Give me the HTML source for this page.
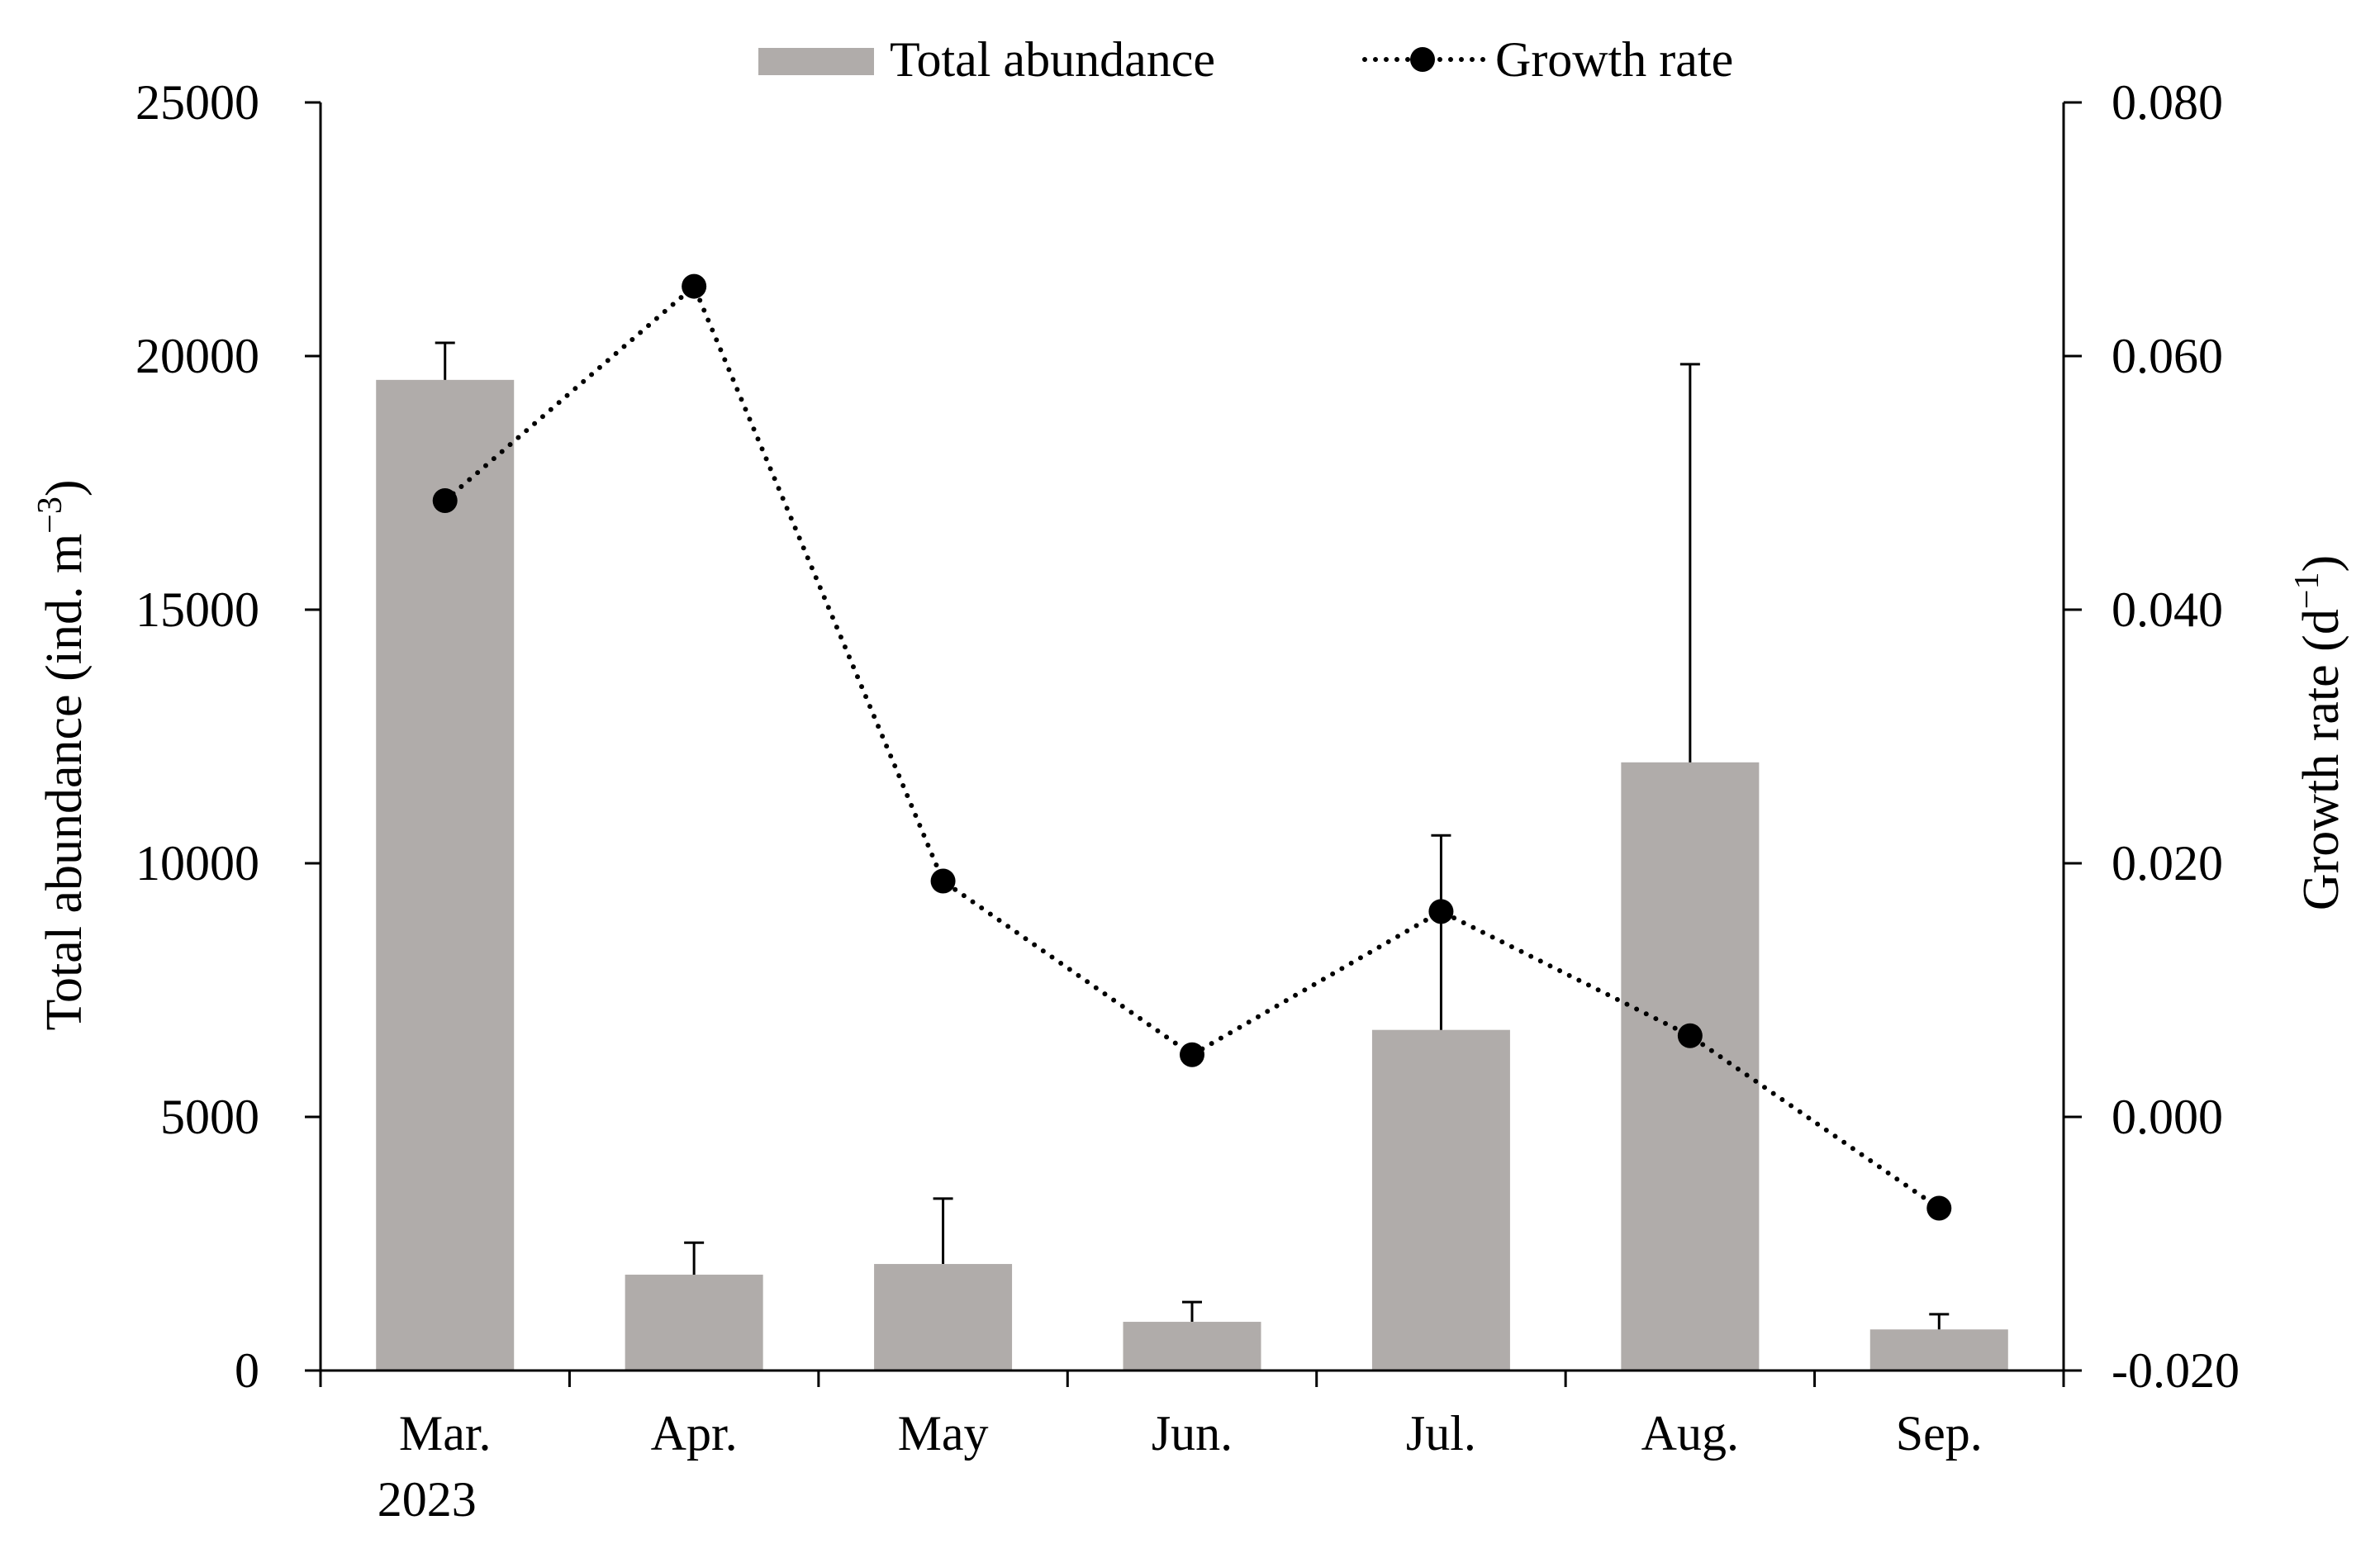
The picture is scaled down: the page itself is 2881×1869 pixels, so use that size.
<!DOCTYPE html>
<html><head><meta charset="utf-8"><style>
html,body{margin:0;padding:0;background:#fff;}
svg{display:block;font-family:"Liberation Serif",serif;}
</style></head><body>
<svg id="chart" width="2881" height="1869" viewBox="0 0 2881 1869" xmlns="http://www.w3.org/2000/svg">
<g id="layer"></g>
</svg>
<script>
const categories = ["Mar.","Apr.","May","Jun.","Jul.","Aug.","Sep."];
const abundance = [19530,1890,2100,960,6715,11990,810];
const abundanceErr = [730,630,1290,390,3835,7850,300];
const growthRate = [0.0486,0.0655,0.0186,0.0049,0.0162,0.0064,-0.0072];
const leftTicks = [0,5000,10000,15000,20000,25000];
const rightTicks = ["-0.020","0.000","0.020","0.040","0.060","0.080"];

const NS="http://www.w3.org/2000/svg";
const g=document.getElementById('layer');
const X0=388,X1=2498,Y0=1659,Y1=124;
const catW=(X1-X0)/categories.length;
const xc=i=>X0+catW*(i+0.5);
const yL=v=>Y0-(v/25000)*(Y0-Y1);
const yR=v=>Y0-((v+0.02)/0.1)*(Y0-Y1);
function mk(tag,attrs,text){const e=document.createElementNS(NS,tag);for(const k in attrs)e.setAttribute(k,attrs[k]);if(text!==undefined)e.textContent=text;g.appendChild(e);return e;}

// bars
abundance.forEach((v,i)=>{
  const bw=167;
  const r=mk('rect',{x:xc(i)-bw/2,y:yL(v),width:bw,height:Y0-yL(v),fill:'#b0acaa'});
  
  
  const top=yL(v+abundanceErr[i]);
  const e=mk('path',{d:`M${xc(i)},${yL(v)} V${top} M${xc(i)-12},${top} H${xc(i)+12}`,stroke:'#000','stroke-width':3,fill:'none'});
  
  
});

// axes
let a=mk('path',{d:`M${X0},${Y1} V${Y0} H${X1} V${Y1}`,stroke:'#000','stroke-width':3,fill:'none'});


leftTicks.forEach(v=>{
  const y=yL(v);
  mk('line',{x1:X0-19,x2:X0,y1:y,y2:y,stroke:'#000','stroke-width':3});
  const t=mk('text',{x:314,y:y+20,'text-anchor':'end','font-size':60},String(v));
  
  
});
rightTicks.forEach(s=>{
  const y=yR(parseFloat(s));
  mk('line',{x1:X1,x2:X1+22,y1:y,y2:y,stroke:'#000','stroke-width':3});
  const t=mk('text',{x:2556,y:y+20,'font-size':60},s);
  
  
});
for(let i=0;i<=categories.length;i++){
  const x=X0+catW*i;
  mk('line',{x1:x,x2:x,y1:Y0,y2:Y0+20,stroke:'#000','stroke-width':3});
}
categories.forEach((c,i)=>{
  const t=mk('text',{x:xc(i),y:1755,'text-anchor':'middle','font-size':60},c);
  
  
});
let yr=mk('text',{x:xc(0)-22,y:1835,'text-anchor':'middle','font-size':60},'2023');



// growth line
const pts=growthRate.map((v,i)=>`${xc(i)},${yR(v)}`).join(' ');
let pl=mk('polyline',{points:pts,fill:'none',stroke:'#000','stroke-width':6,'stroke-dasharray':'0 13','stroke-linecap':'round'});


growthRate.forEach((v,i)=>{
  const c=mk('circle',{cx:xc(i),cy:yR(v),r:15,fill:'#000'});
  
  
});

// axis titles
let lt=mk('text',{x:0,y:0,'text-anchor':'middle','font-size':62,transform:'translate(98,914) rotate(-90)'});


lt.innerHTML='Total abundance (ind. m<tspan dy="-24" font-size="42">−3</tspan><tspan dy="24">)</tspan>';
let rt=mk('text',{x:0,y:0,'text-anchor':'middle','font-size':62,transform:'translate(2830,887) rotate(-90)'});


rt.innerHTML='Growth rate (d<tspan dy="-24" font-size="42">−1</tspan><tspan dy="24">)</tspan>';

// legend
let lr=mk('rect',{x:918,y:58,width:140,height:33,fill:'#b0acaa'});


let l1=mk('text',{x:1077,y:92,'font-size':60},'Total abundance');


let ll=mk('line',{x1:1652,x2:1798,y1:72,y2:72,stroke:'#000','stroke-width':6,'stroke-dasharray':'0 13','stroke-linecap':'round'});


let lc=mk('circle',{cx:1722,cy:72,r:15,fill:'#000'});


let l2=mk('text',{x:1810,y:92,'font-size':60},'Growth rate');


</script>
</body></html>
